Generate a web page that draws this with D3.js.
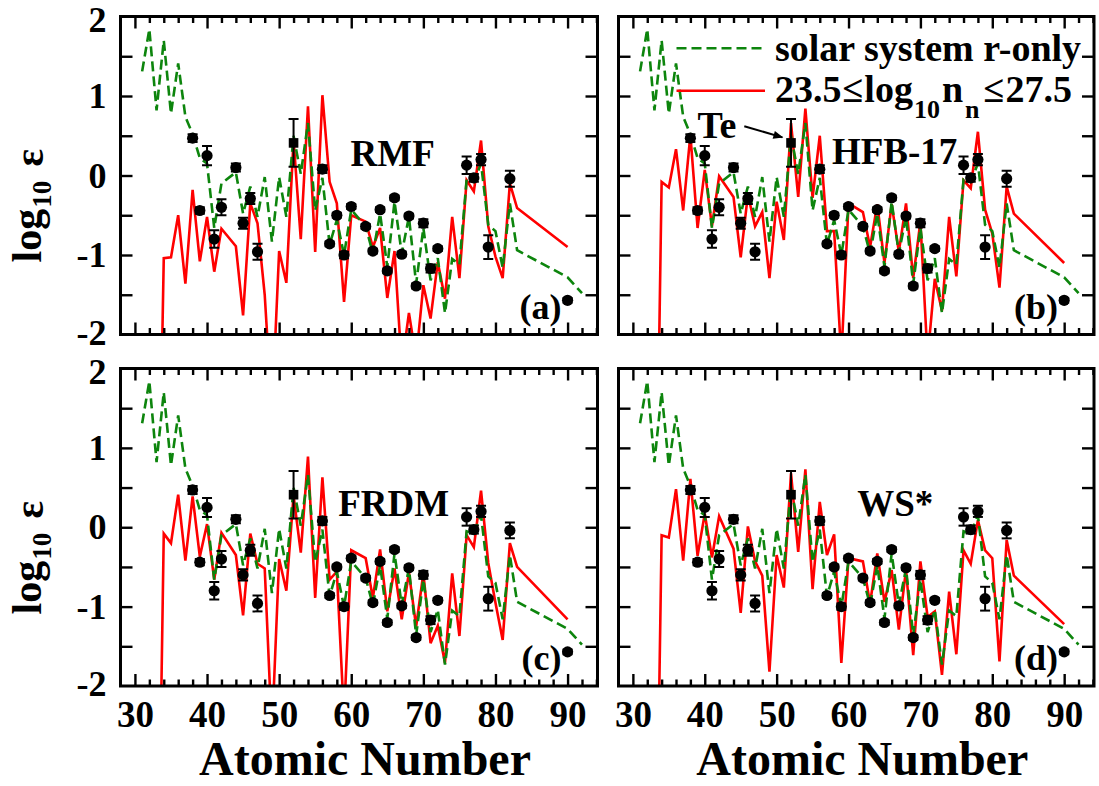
<!DOCTYPE html>
<html><head><meta charset="utf-8">
<script src="https://cdn.jsdelivr.net/npm/d3@7/dist/d3.min.js"></script>
<style>body{margin:0;background:#fff}svg{display:block}</style>
</head><body>
<svg id="chart" width="1099" height="786"></svg>
<script>
// ---------- data ----------
const obsZ   = [38,39,40,41,42,44,45,46,47,52,56,57,58,59,60,62,63,64,65,66,67,68,69,70,71,72,76,77,78,79,82,90];
const obsVal = [0.47,-0.44,0.25,-0.80,-0.40,0.10,-0.60,-0.29,-0.96,0.41,0.08,-0.86,-0.50,-1.00,-0.39,-0.64,-0.95,-0.43,-1.20,-0.28,-0.99,-0.51,-1.39,-0.60,-1.17,-0.92,0.13,-0.03,0.20,-0.90,-0.04,-1.57];
const obsErr = [0.05,0.04,0.12,0.11,0.10,0.05,0.07,0.07,0.10,0.30,0.05,0.03,0.03,0.04,0.03,0.03,0.03,0.03,0.03,0.03,0.03,0.03,0.03,0.05,0.05,0.03,0.11,0.05,0.07,0.15,0.10,0.03];
const squareZ = 52; // Te

const solarZ   = [31,32,33,34,35,36,37,38,39,40,41,42,44,45,46,47,48,49,50,51,52,53,54,55,56,57,58,59,60,62,63,64,65,66,67,68,69,70,71,72,73,74,75,76,77,78,79,80,81,82,83,90,92];
const solarVal = [1.31,1.84,0.82,1.70,0.78,1.41,0.74,0.52,0.22,0.15,-0.66,-0.10,
                  0.04,-0.48,-0.14,-0.52,-0.02,-0.83,-0.02,-0.52,0.50,0.02,0.66,-0.44,-0.03,-0.87,-0.56,-1.00,-0.43,
                  -0.64,-0.98,-0.48,-1.15,-0.33,-0.98,-0.52,-1.36,-0.66,-1.32,-1.04,-1.73,-1.05,-1.12,-0.05,-0.08,0.15,-0.62,-0.70,-1.16,-0.35,-0.94,
                  -1.28,-1.48];

const redZ   = [33,34,35,36,37,38,39,40,41,42,44,45,46,47,48,49,50,51,52,53,54,55,56,57,58,59,60,62,63,64,65,66,67,68,69,70,71,72,73,74,75,76,77,78,79,80,81,82,83,90];
const redRMF  = [-6,-1.04,-1.03,-0.50,-1.36,-0.18,-1.08,-0.52,-1.21,-0.67,-0.89,-1.76,-0.35,-0.60,-1.50,-3.0,-0.95,-1.35,0.45,-0.80,0.87,-0.96,1.01,-0.08,-0.35,-1.59,-0.50,-0.58,-0.90,-0.66,-1.54,-0.95,-2.4,-1.73,-2.3,-1.38,-1.80,-1.09,-1.55,-0.52,-1.29,-0.06,-0.20,0.44,-0.64,-1.02,-1.29,-0.10,-0.41,-0.90];
const redHFB  = [-6,-0.08,-0.15,0.33,-0.44,0.51,-0.66,0.07,-0.64,-0.01,-0.27,-1.03,-0.24,-0.64,-0.46,-1.29,-0.33,-0.81,0.66,-0.27,0.84,-0.28,0.50,-0.70,-0.70,-2.3,-0.35,-0.46,-0.90,-0.36,-1.10,-0.36,-0.96,-0.35,-1.29,-0.58,-2.3,-1.30,-1.70,-0.52,-1.27,-0.06,-0.16,0.55,-0.43,-0.73,-1.41,-0.14,-0.48,-1.10];
const redFRDM = [-6,-0.08,-0.20,0.41,-0.42,0.39,-0.37,0.04,-0.66,-0.07,-0.35,-1.11,-0.08,-0.46,-0.52,-2.6,-0.40,-0.80,0.40,-0.32,0.89,-0.89,0.63,-0.66,-0.56,-2.4,-0.29,-0.39,-0.89,-0.28,-1.06,-0.52,-1.16,-0.57,-1.25,-0.58,-1.46,-1.24,-1.71,-0.58,-1.37,-0.10,-0.25,0.46,-0.45,-0.95,-1.42,-0.20,-0.50,-1.16];
const redWS   = [-6,-0.10,-0.13,0.48,-0.42,0.61,-0.36,0.17,-0.38,0.14,-0.27,-1.08,0.01,-0.43,-0.61,-1.82,-0.35,-0.76,0.68,-0.31,0.73,-0.78,0.32,-0.35,-0.09,-1.71,-0.39,-0.43,-0.96,-0.33,-0.94,-0.54,-1.29,-0.53,-1.61,-0.43,-1.13,-1.06,-1.86,-0.81,-1.60,-0.29,-0.46,0.09,-0.29,-0.39,-1.69,-0.16,-0.61,-1.22];

const modelNames = ["RMF","HFB-17","FRDM","WS*"];
const panelTags  = ["(a)","(b)","(c)","(d)"];
const xMajorTicks = [30,40,50,60,70,80,90];
const yMajorTicks = [-2,-1,0,1,2];
const legendLabels = ["solar system r-only","23.5≤log10nn≤27.5"];

// ---------- layout ----------
const FONT = '"Liberation Serif","Times New Roman",Times,serif';
const GREEN = "#0d850d", RED = "#ff0000";
const cols = [{x0:120.5,x1:597.5},{x0:618.5,x1:1094}];
const rows = [{y0:16.5,y1:334.5},{y0:368.5,y1:686}];
const panels = [
  {col:0,row:0,red:redRMF, name:modelNames[0], tag:panelTags[0], lz:59.9, lv:0.12},
  {col:1,row:0,red:redHFB, name:modelNames[1], tag:panelTags[1], lz:57.7, lv:0.15},
  {col:0,row:1,red:redFRDM,name:modelNames[2], tag:panelTags[2], lz:58.2, lv:0.146},
  {col:1,row:1,red:redWS,  name:modelNames[3], tag:panelTags[3], lz:61.2, lv:0.146}
];

const svg = d3.select("#chart");
const defs = svg.append("defs");
defs.append("marker").attr("id","arr").attr("viewBox","0 0 10 10").attr("refX",9).attr("refY",5)
  .attr("markerWidth",14).attr("markerHeight",10).attr("markerUnits","userSpaceOnUse").attr("orient","auto")
  .append("path").attr("d","M0,1 L10,5 L0,9 Z").attr("fill","#000");

panels.forEach((p,i)=>{
  const c = cols[p.col], r = rows[p.row];
  const x = d3.scaleLinear().domain([28,94.15]).range([c.x0,c.x1]);
  const y = d3.scaleLinear().domain([-2,2]).range([r.y1,r.y0]);
  const g = svg.append("g");

  defs.append("clipPath").attr("id","clip"+i).append("rect")
    .attr("x",c.x0).attr("y",r.y0).attr("width",c.x1-c.x0).attr("height",r.y1-r.y0);
  const plot = g.append("g").attr("clip-path",`url(#clip${i})`);

  const line = d3.line().x(d=>x(d[0])).y(d=>y(d[1]));
  plot.append("path").datum(d3.zip(redZ,p.red)).attr("d",line)
    .attr("fill","none").attr("stroke",RED).attr("stroke-width",2.6).attr("stroke-linejoin","miter");
  plot.append("path").datum(d3.zip(solarZ,solarVal)).attr("d",line)
    .attr("fill","none").attr("stroke",GREEN).attr("stroke-width",2.6).attr("stroke-dasharray","10,5");

  // error bars
  const obs = obsZ.map((z,k)=>({z, v:obsVal[k], e:obsErr[k]}));
  const eb = plot.append("g").attr("stroke","#000").attr("stroke-width",2);
  obs.forEach(d=>{
    const cx = x(d.z), yt = y(d.v+d.e), yb = y(d.v-d.e);
    eb.append("line").attr("x1",cx).attr("x2",cx).attr("y1",yt).attr("y2",yb);
    eb.append("line").attr("x1",cx-5).attr("x2",cx+5).attr("y1",yt).attr("y2",yt);
    eb.append("line").attr("x1",cx-5).attr("x2",cx+5).attr("y1",yb).attr("y2",yb);
  });
  plot.append("g").selectAll("circle").data(obs.filter(d=>d.z!==squareZ)).join("circle")
    .attr("cx",d=>x(d.z)).attr("cy",d=>y(d.v)).attr("r",5.6).attr("fill","#000");
  plot.append("g").selectAll("rect").data(obs.filter(d=>d.z===squareZ)).join("rect")
    .attr("x",d=>x(d.z)-4.8).attr("y",d=>y(d.v)-4.8).attr("width",9.6).attr("height",9.6).attr("fill","#000");

  // axes (inward ticks)
  const minorX = d3.range(30,95,2).filter(v=>v%10!==0);
  const yTickVals = [-1.5,-1,-0.5,0,0.5,1,1.5];
  const ax = g.append("g").attr("class","ax");
  ax.append("g").attr("transform",`translate(0,${r.y1})`).call(d3.axisBottom(x).tickValues(xMajorTicks).tickSize(-12).tickFormat(""));
  ax.append("g").attr("transform",`translate(0,${r.y1})`).call(d3.axisBottom(x).tickValues(minorX).tickSize(-6.5).tickFormat(""));
  ax.append("g").attr("transform",`translate(0,${r.y0})`).call(d3.axisTop(x).tickValues(xMajorTicks).tickSize(-12).tickFormat(""));
  ax.append("g").attr("transform",`translate(0,${r.y0})`).call(d3.axisTop(x).tickValues(minorX).tickSize(-6.5).tickFormat(""));
  ax.append("g").attr("transform",`translate(${c.x0},0)`).call(d3.axisLeft(y).tickValues(yTickVals).tickSize(-12).tickFormat(""));
  ax.append("g").attr("transform",`translate(${c.x1},0)`).call(d3.axisRight(y).tickValues(yTickVals).tickSize(-12).tickFormat(""));
  ax.selectAll(".domain").remove();
  ax.selectAll(".tick line").attr("stroke","#000").attr("stroke-width",2.4);

  if (p.row===1) {
    const lb = g.append("g").attr("transform",`translate(0,${r.y1})`)
      .call(d3.axisBottom(x).tickValues(xMajorTicks).tickSize(0).tickPadding(15).tickFormat(d3.format("d")));
    lb.select(".domain").remove();
    lb.selectAll("text").attr("font-family",FONT).attr("font-weight","bold").attr("font-size",37).attr("fill","#000");
    g.append("text").attr("x",(c.x0+c.x1)/2+6).attr("y",775).attr("text-anchor","middle")
      .attr("font-family",FONT).attr("font-weight","bold").attr("font-size",48).text("Atomic Number");
  }
  if (p.col===0) {
    const lb = g.append("g").attr("transform",`translate(${c.x0},0)`)
      .call(d3.axisLeft(y).tickValues(yMajorTicks).tickSize(0).tickPadding(14).tickFormat(d3.format("d")));
    lb.select(".domain").remove();
    lb.selectAll("text").attr("font-family",FONT).attr("font-weight","bold").attr("font-size",36).attr("fill","#000")
      .attr("dy",d=>d===2?"0.42em":(d===-2?"0.27em":"0.32em"))
      .text(d=>d<0?"-"+Math.abs(d):d);
    const yl = g.append("text").attr("transform",`translate(41,${r.y0+246}) rotate(-90)`)
      .attr("font-family",FONT).attr("font-weight","bold").attr("font-size",42);
    yl.append("tspan").text("log");
    yl.append("tspan").attr("font-size",27).attr("dy",10).attr("dx",1).text("10");
    yl.append("tspan").attr("dy",-8).attr("dx",14).text("ε");
  }

  // frame
  g.append("rect").attr("x",c.x0).attr("y",r.y0).attr("width",c.x1-c.x0).attr("height",r.y1-r.y0)
    .attr("fill","none").attr("stroke","#000").attr("stroke-width",3);

  // labels
  g.append("text").attr("x",x(p.lz)).attr("y",y(p.lv)).attr("font-family",FONT).attr("font-weight","bold")
    .attr("font-size",37).text(p.name);
  g.append("text").attr("x",c.x1-36).attr("y",r.y1-16).attr("text-anchor","end").attr("font-family",FONT)
    .attr("font-weight","bold").attr("font-size",36).text(p.tag);

  if (i===1) {
    // legend
    const lg = g.append("g");
    lg.append("line").attr("x1",676.5).attr("x2",765).attr("y1",48.3).attr("y2",48.3)
      .attr("stroke",GREEN).attr("stroke-width",2.6).attr("stroke-dasharray","10,5");
    lg.append("line").attr("x1",676.5).attr("x2",765).attr("y1",90.7).attr("y2",90.7)
      .attr("stroke",RED).attr("stroke-width",2.6);
    lg.append("text").attr("x",775).attr("y",60.5).attr("font-family",FONT).attr("font-weight","bold")
      .attr("font-size",38).text(legendLabels[0]);
    const t2 = lg.append("text").attr("x",775).attr("y",102).attr("font-family",FONT).attr("font-weight","bold").attr("font-size",38);
    t2.append("tspan").text("23.5");
    t2.append("tspan").attr("dx",1).text("≤");
    t2.append("tspan").attr("dx",1).text("log");
    t2.append("tspan").attr("font-size",26).attr("dy",16).attr("dx",1).text("10");
    t2.append("tspan").attr("dy",-16).attr("dx",2).text("n");
    t2.append("tspan").attr("font-size",26).attr("dy",16).attr("dx",2).text("n");
    t2.append("tspan").attr("dy",-16).attr("dx",4).text("≤");
    t2.append("tspan").attr("dx",1).text("27.5");
    // Te annotation
    g.append("text").attr("x",x(39.0)).attr("y",y(0.47)).attr("font-family",FONT).attr("font-weight","bold")
      .attr("font-size",38).text("Te");
    g.append("line").attr("x1",x(45.5)).attr("y1",y(0.62)).attr("x2",x(50.8)).attr("y2",y(0.48))
      .attr("stroke","#000").attr("stroke-width",2).attr("marker-end","url(#arr)");
  }
});
</script>
</body></html>
